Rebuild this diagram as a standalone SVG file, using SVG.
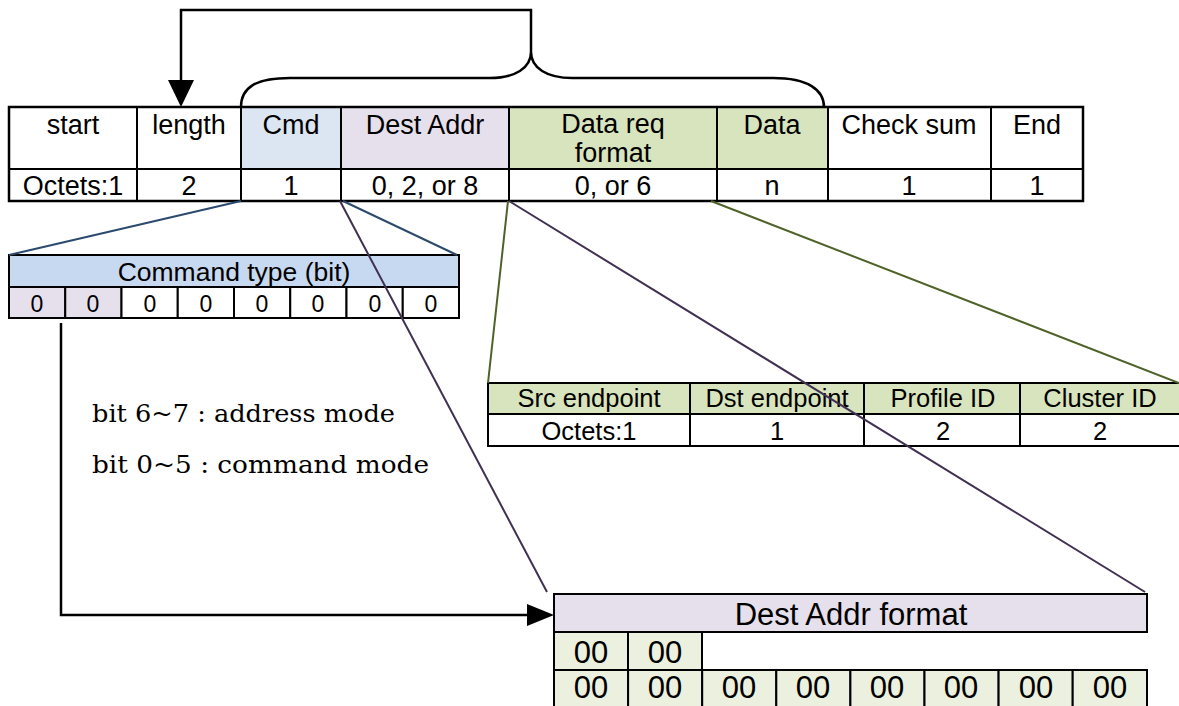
<svg xmlns="http://www.w3.org/2000/svg" width="1179" height="706" viewBox="0 0 1179 706">
<style>
.c{stroke:#000;stroke-width:2}
.w{fill:#fff}
.blue{fill:#DCE6F2}
.lav{fill:#E5E0EC}
.grn{fill:#D7E4BD}
.lgrn{fill:#EBF1DE}
.hblue{fill:#C6D9F1}
.t{font-family:"Liberation Sans",Arial,sans-serif;fill:#000;text-anchor:middle}
.f27{font-size:27px}
.f23{font-size:23px}
.f31{font-size:31px}
.note{font-family:"DejaVu Serif","Liberation Serif",serif;font-size:25px;fill:#000}
.k{fill:none;stroke:#000;stroke-width:2.5}
.lb{stroke:#2C4A6E;stroke-width:2;fill:none}
.lp{stroke:#403152;stroke-width:2;fill:none}
.lg{stroke:#4F6228;stroke-width:2;fill:none}
</style>
<rect width="1179" height="706" fill="#fff"/>

<g id="frame">
<rect class="c w" x="9" y="107" width="128" height="62"/>
<rect class="c w" x="137" y="107" width="104" height="62"/>
<rect class="c blue" x="241" y="107" width="100" height="62"/>
<rect class="c lav" x="341" y="107" width="168" height="62"/>
<rect class="c grn" x="509" y="107" width="208" height="62"/>
<rect class="c grn" x="717" y="107" width="111" height="62"/>
<rect class="c w" x="828" y="107" width="163" height="62"/>
<rect class="c w" x="991" y="107" width="92" height="62"/>
<rect class="c w" x="9" y="169" width="128" height="32"/>
<rect class="c w" x="137" y="169" width="104" height="32"/>
<rect class="c w" x="241" y="169" width="100" height="32"/>
<rect class="c w" x="341" y="169" width="168" height="32"/>
<rect class="c w" x="509" y="169" width="208" height="32"/>
<rect class="c w" x="717" y="169" width="111" height="32"/>
<rect class="c w" x="828" y="169" width="163" height="32"/>
<rect class="c w" x="991" y="169" width="92" height="32"/>
<rect x="9" y="107" width="1074" height="94" fill="none" stroke="#000" stroke-width="2.5"/>
<g class="t f27">
<text x="73" y="134">start</text>
<text x="189" y="134">length</text>
<text x="291" y="134">Cmd</text>
<text x="425" y="134">Dest Addr</text>
<text x="613" y="133">Data req</text>
<text x="613" y="162">format</text>
<text x="772" y="134">Data</text>
<text x="909" y="134">Check sum</text>
<text x="1037" y="134">End</text>
<text x="73" y="195">Octets:1</text>
<text x="189" y="195">2</text>
<text x="291" y="195">1</text>
<text x="425" y="195">0, 2, or 8</text>
<text x="613" y="195">0, or 6</text>
<text x="772" y="195">n</text>
<text x="909" y="195">1</text>
<text x="1037" y="195">1</text>
</g>
</g>

<g id="command-type">
<rect class="c hblue" x="9" y="255" width="450" height="32"/>
<rect class="c lav" x="9" y="287" width="56.25" height="31"/>
<rect class="c lav" x="65.25" y="287" width="56.25" height="31"/>
<rect class="c w" x="121.5" y="287" width="56.25" height="31"/>
<rect class="c w" x="177.75" y="287" width="56.25" height="31"/>
<rect class="c w" x="234" y="287" width="56.25" height="31"/>
<rect class="c w" x="290.25" y="287" width="56.25" height="31"/>
<rect class="c w" x="346.5" y="287" width="56.25" height="31"/>
<rect class="c w" x="402.75" y="287" width="56.25" height="31"/>
<text class="t" x="234" y="281" style="font-size:26.5px">Command type (bit)</text>
<g class="t f23">
<text x="37" y="312">0</text>
<text x="93" y="312">0</text>
<text x="150" y="312">0</text>
<text x="206" y="312">0</text>
<text x="262" y="312">0</text>
<text x="318" y="312">0</text>
<text x="375" y="312">0</text>
<text x="431" y="312">0</text>
</g>
</g>

<g id="bit-note">
<text class="note" x="92" y="422" textLength="303" lengthAdjust="spacingAndGlyphs">bit 6~7 : address mode</text>
<text class="note" x="92" y="473" textLength="337" lengthAdjust="spacingAndGlyphs">bit 0~5 : command mode</text>
</g>

<g id="data-req-format">
<rect class="c grn" x="488" y="383" width="202" height="31"/>
<rect class="c grn" x="690" y="383" width="174" height="31"/>
<rect class="c grn" x="864" y="383" width="156" height="31"/>
<rect class="c grn" x="1020" y="383" width="162" height="31"/>
<rect class="c w" x="488" y="414" width="202" height="32"/>
<rect class="c w" x="690" y="414" width="174" height="32"/>
<rect class="c w" x="864" y="414" width="156" height="32"/>
<rect class="c w" x="1020" y="414" width="162" height="32"/>
<g class="t" style="font-size:25.5px">
<text x="589" y="407">Src endpoint</text>
<text x="777" y="407">Dst endpoint</text>
<text x="943" y="407">Profile ID</text>
<text x="1100" y="407">Cluster ID</text>
<text x="589" y="440">Octets:1</text>
<text x="777" y="440">1</text>
<text x="943" y="440">2</text>
<text x="1100" y="440">2</text>
</g>
</g>

<g id="dest-addr-format">
<rect class="c lav" x="554" y="594" width="593" height="38" stroke-width="2.5"/>
<rect class="c lgrn" x="554" y="632" width="74" height="38"/>
<rect class="c lgrn" x="628" y="632" width="74" height="38"/>
<rect class="c lgrn" x="554" y="670" width="74.1" height="40"/>
<rect class="c lgrn" x="628.1" y="670" width="74.1" height="40"/>
<rect class="c lgrn" x="702.2" y="670" width="74.1" height="40"/>
<rect class="c lgrn" x="776.3" y="670" width="74.1" height="40"/>
<rect class="c lgrn" x="850.4" y="670" width="74.1" height="40"/>
<rect class="c lgrn" x="924.5" y="670" width="74.1" height="40"/>
<rect class="c lgrn" x="998.6" y="670" width="74.1" height="40"/>
<rect class="c lgrn" x="1072.7" y="670" width="74.3" height="40"/>
<text class="t f31" x="851" y="625">Dest Addr format</text>
<g class="t f31">
<text x="591" y="663">00</text>
<text x="665" y="663">00</text>
<text x="591" y="698">00</text>
<text x="665" y="698">00</text>
<text x="739" y="698">00</text>
<text x="813" y="698">00</text>
<text x="887" y="698">00</text>
<text x="961" y="698">00</text>
<text x="1036" y="698">00</text>
<text x="1110" y="698">00</text>
</g>
</g>

<g id="connectors">
<path class="k" d="M241,107 C241,88 255,78 290,78 L490,78 C515,78 531,68 531,52 C531,68 547,78 572,78 L773,78 C808,78 824,90 824,107"/>
<path class="k" d="M531,52 L531,10 L181,10 L181,82"/>
<polygon points="168,80 194,80 181,107" fill="#000"/>
<line class="lb" x1="241" y1="201" x2="9" y2="255"/>
<line class="lb" x1="343" y1="201" x2="457" y2="255"/>
<line class="lp" x1="340" y1="201" x2="547" y2="592"/>
<line class="lp" x1="509" y1="201" x2="1145" y2="592"/>
<line class="lg" x1="508" y1="201" x2="488" y2="383"/>
<line class="lg" x1="711" y1="201" x2="1179" y2="383"/>
<path class="k" d="M61,323 L61,615 L530,615"/>
<polygon points="527,604 554,615 527,626" fill="#000"/>
</g>
</svg>
